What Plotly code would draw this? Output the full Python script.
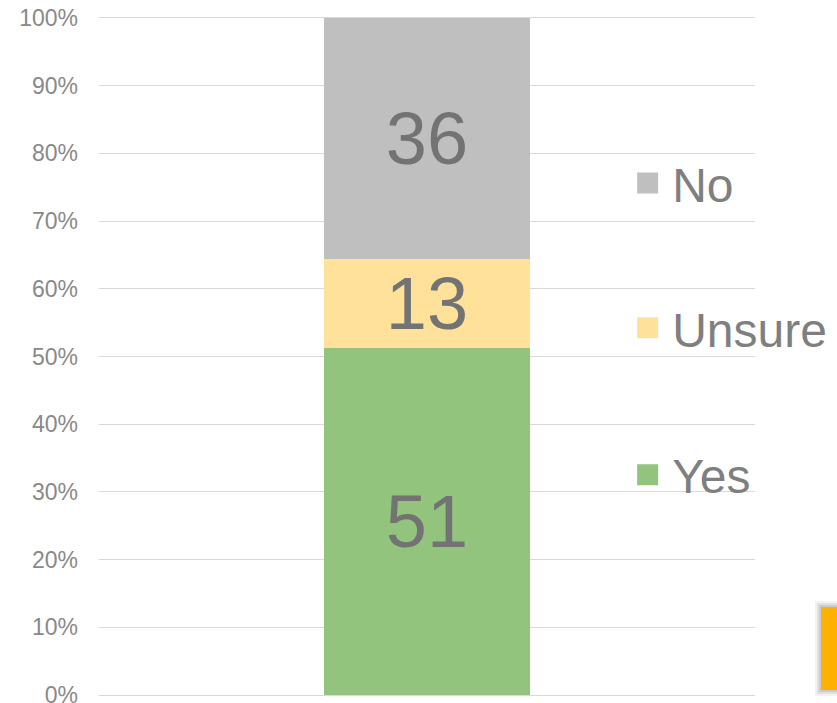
import plotly.graph_objects as go

categories = [""]
series_names = ["Yes", "Unsure", "No"]
yes_values = [51.3]
unsure_values = [13.1]
no_values = [35.6]
colors = {"Yes": "#93C47D", "Unsure": "#FFE199", "No": "#BFBFBF"}
tick_vals = [0, 10, 20, 30, 40, 50, 60, 70, 80, 90, 100]
tick_text = [f"{v}%" for v in tick_vals]

values = {"Yes": yes_values, "Unsure": unsure_values, "No": no_values}
legend_ids = {"No": "legend", "Unsure": "legend2", "Yes": "legend3"}
legend_y = {"No": 0.756, "Unsure": 0.542, "Yes": 0.325}

FONT = "Liberation Sans, Arial, sans-serif"
GRID = "#D9D9D9"

fig = go.Figure()
for name in series_names:
    fig.add_trace(go.Bar(
        x=categories, y=values[name], name=name,
        marker=dict(color=colors[name], line=dict(width=0)),
        texttemplate="%{y:.0f}", textposition="inside",
        insidetextanchor="middle", textangle=0, constraintext="none",
        textfont=dict(size=74, color="#737373", family=FONT),
        width=0.313, showlegend=False, legendgroup=name,
    ))
    fig.add_trace(go.Scatter(
        x=[None], y=[None], mode="markers", name=name,
        marker=dict(symbol="square", size=16, color=colors[name],
                    line=dict(color=colors[name], width=5)),
        legendgroup=name, legend=legend_ids[name], showlegend=True,
    ))

legend_common = dict(font=dict(size=48, color="#7F7F7F", family=FONT),
                     bgcolor="rgba(0,0,0,0)", itemwidth=39,
                     xanchor="left", yanchor="middle", x=0.799)

fig.update_layout(
    barmode="stack",
    width=837, height=703,
    margin=dict(l=99, r=82, t=18, b=8, autoexpand=False),
    paper_bgcolor="white", plot_bgcolor="white",
    font=dict(family=FONT),
    xaxis=dict(showticklabels=False, showgrid=False, zeroline=False,
               range=[-0.5, 0.5], fixedrange=True,
               showline=True, mirror=True, linecolor=GRID, linewidth=1.3,
               layer="below traces"),
    yaxis=dict(range=[0, 100], tickvals=tick_vals, ticktext=tick_text,
               showgrid=True, gridcolor=GRID, gridwidth=1.3,
               zeroline=True, zerolinecolor=GRID, zerolinewidth=1.3,
               tickfont=dict(size=23, color="#898989", family=FONT),
               ticks="", ticklabelstandoff=20, showline=False,
               ticklabeloverflow="allow"),
    legend=dict(**legend_common, y=legend_y["No"]),
    legend2=dict(**legend_common, y=legend_y["Unsure"]),
    legend3=dict(**legend_common, y=legend_y["Yes"]),
    showlegend=True,
)

# decorative orange tab at bottom right (partially cropped), with soft shadow
for dx, alpha in [(6, 0.05), (4, 0.07), (2, 0.09)]:
    fig.add_shape(type="rect", xref="paper", yref="paper",
                  x0=1.1006 - dx / 656, x1=1.13 + dx / 656,
                  y0=0.0074 - dx / 677, y1=0.13 + dx / 677,
                  fillcolor=f"rgba(0,0,0,{alpha})", line=dict(width=0), layer="below")
fig.add_shape(type="rect", xref="paper", yref="paper",
              x0=1.1006, x1=1.13, y0=0.0074, y1=0.13,
              fillcolor="#FFB000", line=dict(width=0))

fig.write_html(
    "out.html",
    config={"displayModeBar": False},
    post_script="document.body.style.margin='0';document.body.style.overflow='hidden';",
)
